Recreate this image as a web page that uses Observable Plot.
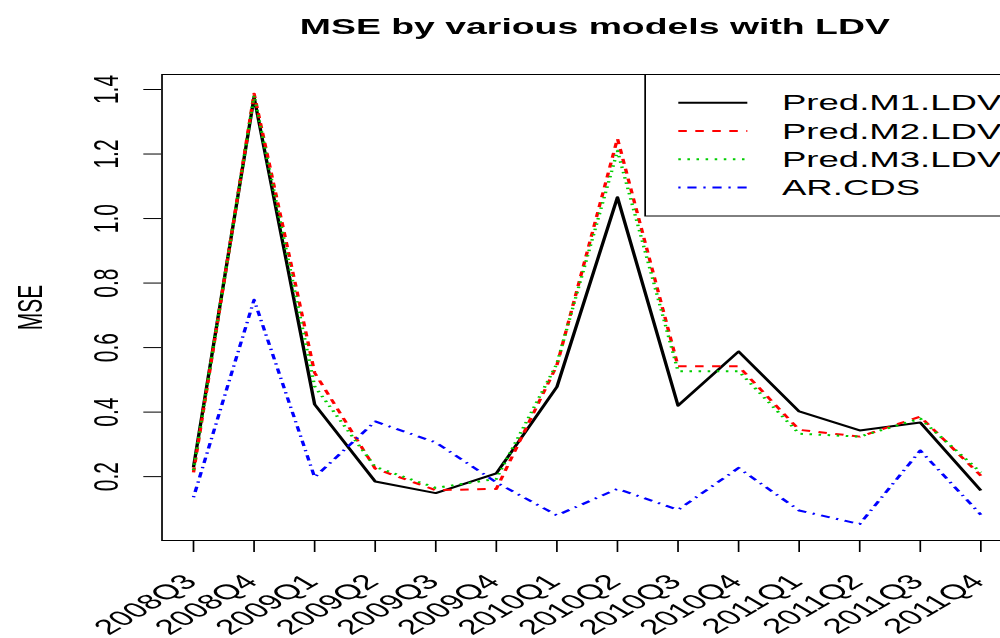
<!DOCTYPE html>
<html><head><meta charset="utf-8">
<script src="https://cdn.jsdelivr.net/npm/d3@7"></script>
<script src="https://cdn.jsdelivr.net/npm/@observablehq/plot@0.6"></script>
<style>
html,body{margin:0;padding:0;overflow:hidden;background:#fff;width:1000px;height:638px}
#wrap{position:relative;width:600px;height:638px;transform:scaleX(1.7);transform-origin:0 0;font-family:"Liberation Sans",Arial,Helvetica,sans-serif}
#legend{position:absolute;left:378.8px;top:74px}
</style></head><body><div id="wrap"></div>
<script>
const quarters = ["2008Q3","2008Q4","2009Q1","2009Q2","2009Q3","2009Q4","2010Q1","2010Q2","2010Q3","2010Q4","2011Q1","2011Q2","2011Q3","2011Q4"];
const seriesNames = ["Pred.M1.LDV","Pred.M2.LDV","Pred.M3.LDV","AR.CDS"];
const predM1 = [0.229, 1.376, 0.424, 0.185, 0.149, 0.210, 0.478, 1.066, 0.420, 0.588, 0.402, 0.343, 0.368, 0.157];
const predM2 = [0.213, 1.387, 0.522, 0.225, 0.158, 0.162, 0.545, 1.248, 0.542, 0.542, 0.345, 0.324, 0.386, 0.203];
const predM3 = [0.220, 1.381, 0.480, 0.230, 0.165, 0.193, 0.550, 1.210, 0.527, 0.527, 0.333, 0.324, 0.380, 0.213];
const arCDS  = [0.136, 0.748, 0.198, 0.371, 0.306, 0.182, 0.080, 0.162, 0.097, 0.227, 0.095, 0.053, 0.281, 0.082];
const yTicks = [0.2, 0.4, 0.6, 0.8, 1.0, 1.2, 1.4];
const colors = ["#000000", "#FF0000", "#00CD00", "#0000FF"];
const dashes = ["none", "5 5", "1.5 3.85", "1.34 4 5.4 4"];

const seriesValues = [predM1, predM2, predM3, arCDS];
const rows = seriesValues.flatMap((vals, s) => vals.map((v, i) => ({series: seriesNames[s], quarter: quarters[i], value: v})));

const FONT = '"Liberation Sans", Arial, Helvetica, sans-serif';

const chart = Plot.plot({
  width: 600, height: 638,
  marginLeft: 94.8, marginRight: 5, marginTop: 74, marginBottom: 98,
  style: {fontFamily: FONT, fontSize: "21px", background: "white", color: "black", overflow: "visible"},
  x: {type: "point", domain: quarters, padding: 0.52, round: false},
  y: {domain: [0.002, 1.4465]},
  marks: [
    ...seriesNames.map((name, s) => Plot.line(rows.filter(r => r.series === name), {
      x: "quarter", y: "value", stroke: colors[s], strokeWidth: 2,
      strokeDasharray: dashes[s], strokeLinecap: "butt", strokeLinejoin: "round"
    })),
    Plot.frame({stroke: "black", strokeWidth: 1}),
    Plot.axisX(quarters, {tickSize: 12, fill: "none", stroke: "black"}),
    Plot.axisY(yTicks, {tickSize: 10.5, fill: "none", stroke: "black"}),
    Plot.text(quarters, {x: d => d, text: d => d, frameAnchor: "bottom", rotate: -45, textAnchor: "end", lineAnchor: "bottom", dx: 3, dy: 42.5, fontSize: 21, fill: "black"}),
    Plot.text(yTicks, {y: d => d, text: d => d.toFixed(1), frameAnchor: "left", rotate: -90, textAnchor: "middle", lineAnchor: "bottom", dx: -26, fontSize: 21, fill: "black"}),
    Plot.text(["MSE"], {text: d => d, frameAnchor: "left", rotate: -90, textAnchor: "middle", lineAnchor: "bottom", dx: -70.8, fontSize: 21, fill: "black"}),
    Plot.text(["MSE by various models with LDV"], {text: d => d, frameAnchor: "top", lineAnchor: "bottom", dy: -41, dx: 4.5, fontSize: 22, fontWeight: "bold", fill: "black"})
  ]
});
document.getElementById("wrap").appendChild(chart);

// legend (R-style, top right of plot region)
const lg = d3.select("#wrap").append("svg").attr("id", "legend")
  .attr("width", 222).attr("height", 143)
  .style("font-family", FONT);
lg.append("rect").attr("x", 0.5).attr("y", 0.5).attr("width", 230).attr("height", 141.5)
  .attr("fill", "white").attr("stroke", "black").attr("stroke-width", 1);
const rowY = [28.7, 57, 85.3, 113.5];
seriesNames.forEach((name, s) => {
  lg.append("line").attr("x1", 20).attr("x2", 60.6).attr("y1", rowY[s]).attr("y2", rowY[s])
    .attr("stroke", colors[s]).attr("stroke-width", 2)
    .attr("stroke-dasharray", dashes[s]).attr("stroke-linecap", "butt");
  lg.append("text").attr("x", 81).attr("y", rowY[s] + 7.6).attr("font-size", 21.5)
    .attr("fill", "black").text(name);
});
</script>
</body></html>
